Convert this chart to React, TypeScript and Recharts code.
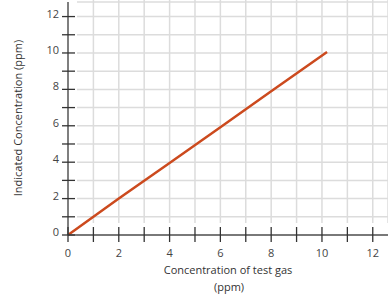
import { LineChart, Line, XAxis, YAxis, CartesianGrid, Label } from "recharts";

const testGas = [0, 2, 4, 6, 8, 10.2];
const indicated = [0, 2, 3.95, 5.92, 7.9, 10.05];
const tickValues = [0, 1, 2, 3, 4, 5, 6, 7, 8, 9, 10, 11, 12];

const data = testGas.map((x, i) => ({ x, y: indicated[i] }));

const FONT = "'Open Sans', 'Noto Sans', sans-serif";
const GRID = "#dcdcdc";

const XTick = ({ x, y, payload }: { x: number; y: number; payload: { value: number } }) => (
  <g>
    <line x1={x} x2={x} y1={y - 8} y2={y + 7} stroke="#333" strokeWidth={1.3} />
    {payload.value % 2 === 0 && (
      <text x={x} y={y + 22} textAnchor="middle" fill="#444" fontSize={11} fontFamily={FONT}>
        {payload.value}
      </text>
    )}
  </g>
);

const YTick = ({ x, y, payload }: { x: number; y: number; payload: { value: number } }) => (
  <g>
    <line x1={x - 6} x2={x + 7} y1={y} y2={y} stroke="#333" strokeWidth={1.3} />
    {payload.value % 2 === 0 && (
      <text x={x - 9} y={y + 1} textAnchor="end" fill="#444" fontSize={11} fontFamily={FONT}>
        {payload.value}
      </text>
    )}
  </g>
);

// grid lines stop a little short of the axes, like the original
const hLine = (p: any) =>
  p.y === p.offset?.top + p.offset?.height ? <g key={p.key} /> : (
    <line key={p.key} x1={p.x1 + 9} x2={p.x2} y1={p.y1} y2={p.y2} stroke={GRID} strokeWidth={1.5} />
  );
const vLine = (p: any) =>
  p.x1 <= 69 ? <g key={p.key} /> : (
    <line key={p.key} x1={p.x1} x2={p.x2} y1={p.y1 - 2} y2={p.y2 - 12} stroke={GRID} strokeWidth={1.5} />
  );

export default function App() {
  return (
    <div style={{ position: "absolute", left: 0, top: 0, background: "#fff" }}>
      <LineChart width={388} height={298} data={data} margin={{ top: 2, right: 0, bottom: 0, left: 0 }}>
        <CartesianGrid horizontal={hLine} vertical={vLine} />
        <XAxis
          type="number"
          dataKey="x"
          domain={[0, 12.6]}
          ticks={tickValues}
          interval={0}
          height={63}
          tickSize={0}
          tickMargin={0}
          tickLine={false}
          axisLine={{ stroke: "#555", strokeWidth: 1.5 }}
          tick={XTick}
        >
          <Label
            position="insideBottom"
            content={() => (
              <g fontFamily={FONT} fontSize={11} fill="#333" textAnchor="middle">
                <text x={228} y={274}>Concentration of test gas</text>
                <text x={229} y={291}>(ppm)</text>
              </g>
            )}
          />
        </XAxis>
        <YAxis
          type="number"
          domain={[0, 12.8]}
          ticks={tickValues}
          interval={0}
          width={68}
          tickSize={0}
          tickMargin={0}
          tickLine={false}
          axisLine={{ stroke: "#555", strokeWidth: 1.5 }}
          tick={YTick}
        >
          <Label
            content={() => (
              <text
                x={17}
                y={118}
                transform="rotate(-90 17 118)"
                textAnchor="middle"
                dominantBaseline="central"
                fontFamily={FONT}
                fontSize={11}
                fill="#333"
              >
                Indicated Concentration (ppm)
              </text>
            )}
          />
        </YAxis>
        <Line
          type="linear"
          dataKey="y"
          stroke="#cc4a1e"
          strokeWidth={2.5}
          dot={false}
          isAnimationActive={false}
        />
      </LineChart>
    </div>
  );
}
